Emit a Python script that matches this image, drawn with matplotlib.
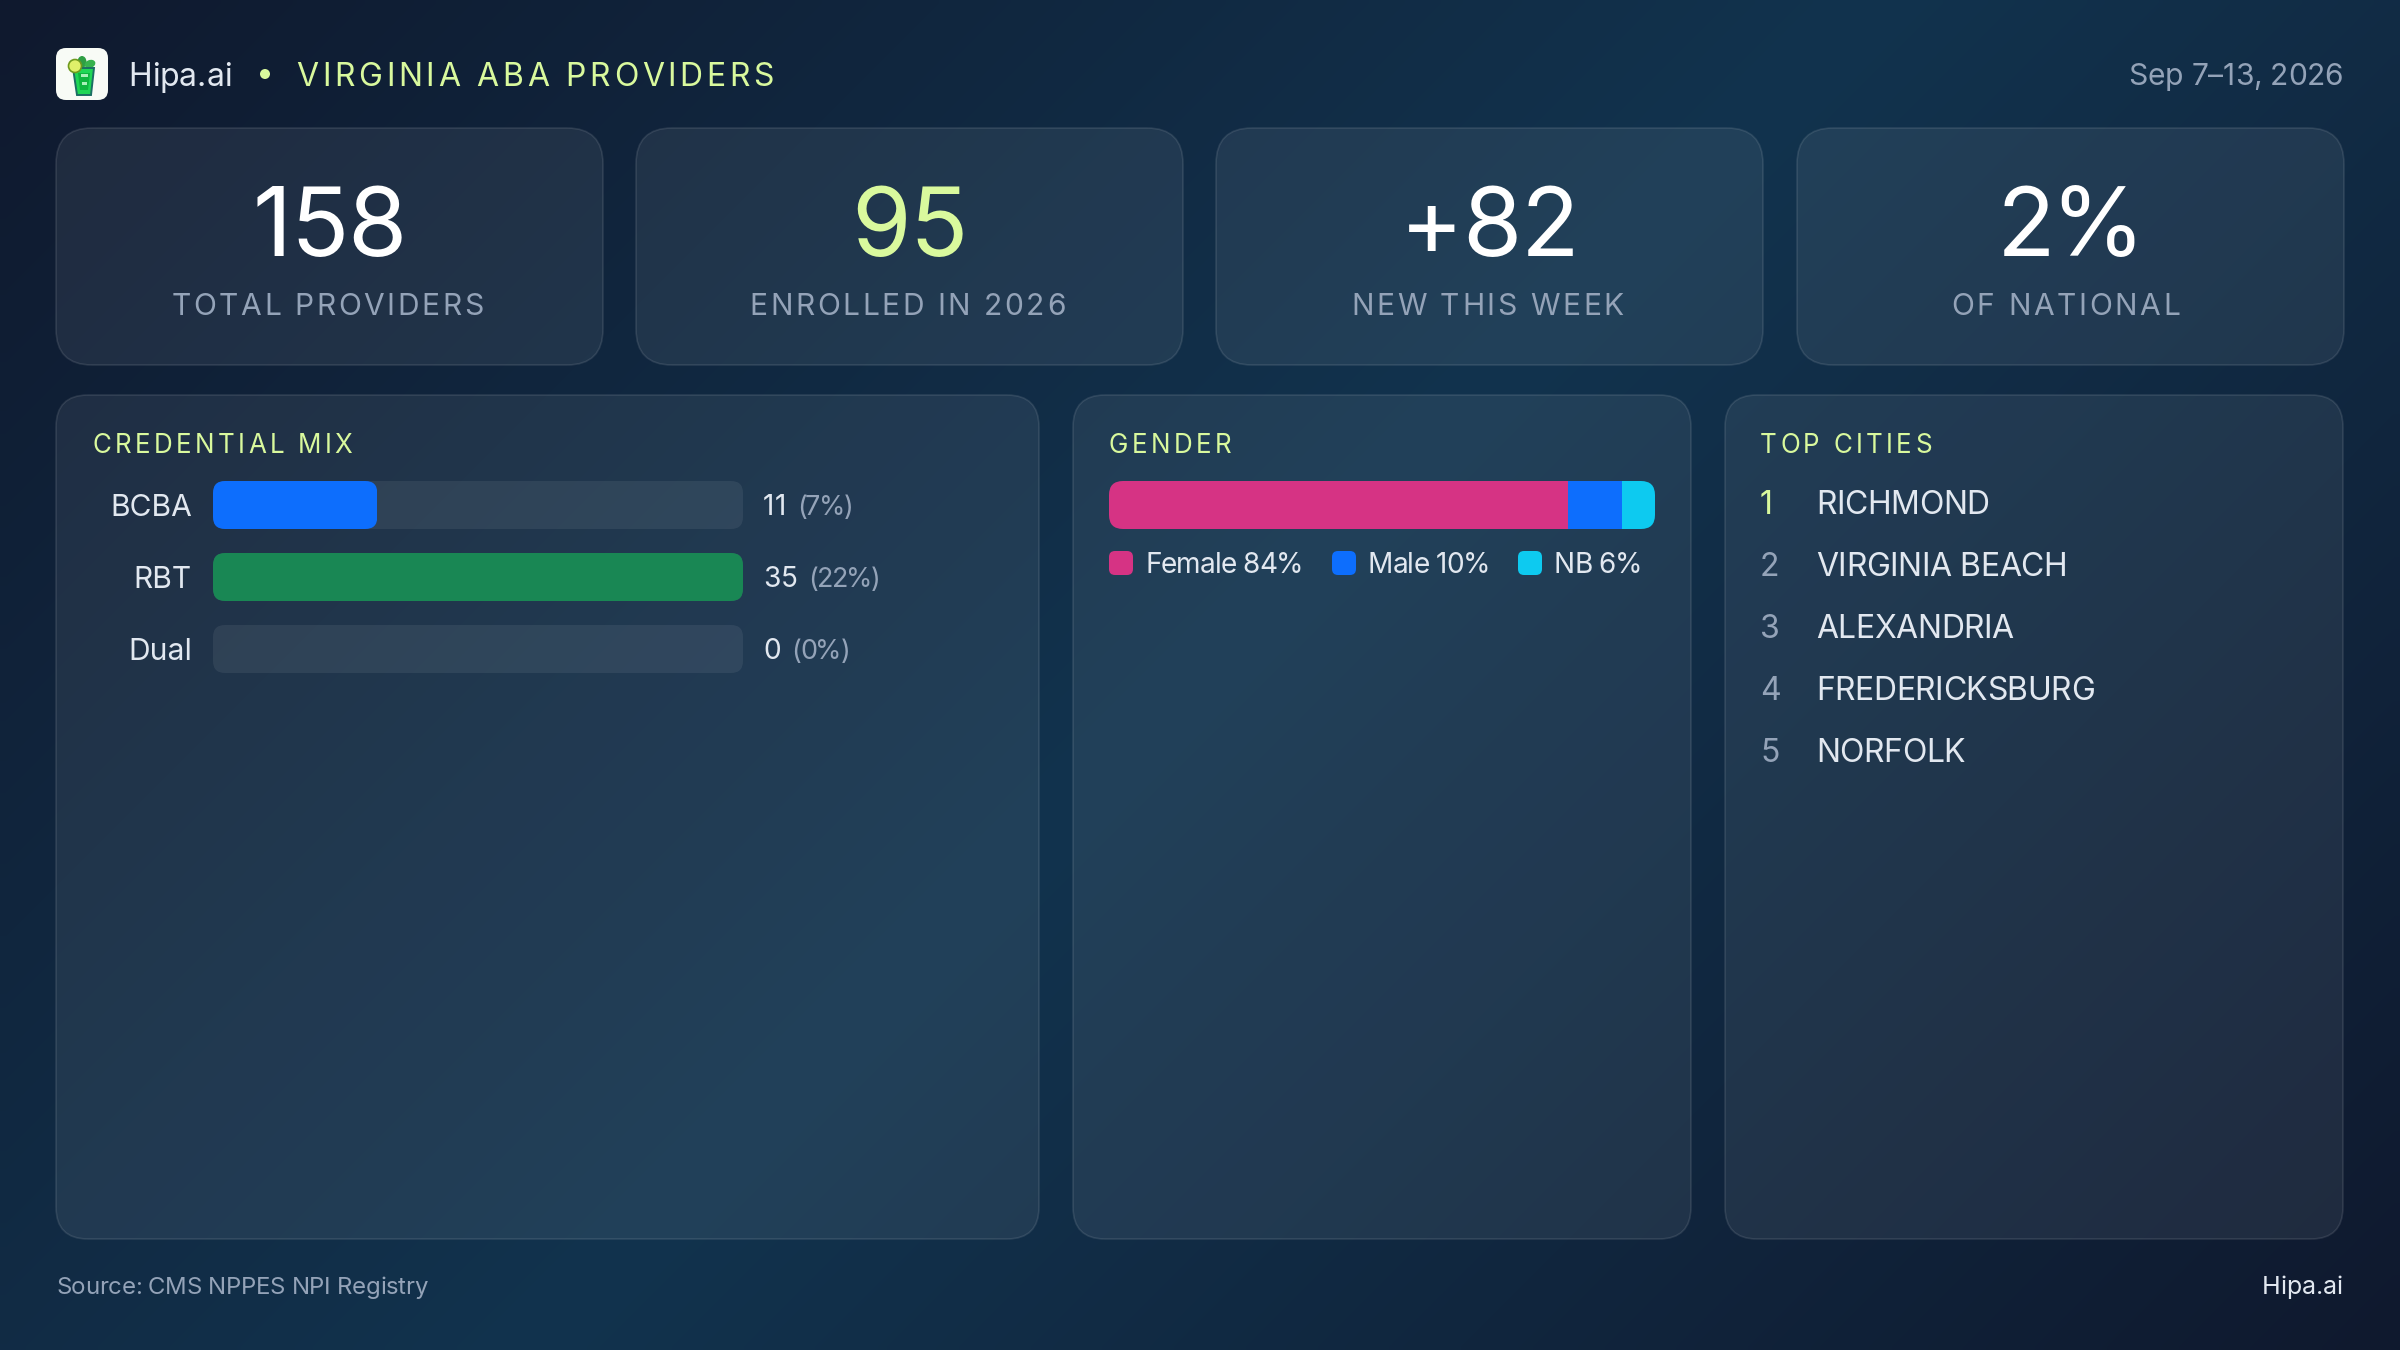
import matplotlib
matplotlib.use("Agg")
import matplotlib.pyplot as plt
import numpy as np
from matplotlib.patches import Circle, Ellipse, FancyBboxPatch, Polygon, Rectangle
from matplotlib.text import Text
from matplotlib.transforms import IdentityTransform

plt.rcParams['font.family'] = ['Inter', 'DejaVu Sans']

W, H = 2400, 1350

# numbers on the slide
card_values = ["158", "95", "+82", "2%"]
card_labels = ["TOTAL PROVIDERS", "ENROLLED IN 2026", "NEW THIS WEEK", "OF NATIONAL"]
cred_names = ["BCBA", "RBT", "Dual"]
cred_counts = [11, 35, 0]
cred_pcts = [7, 22, 0]
cred_fill = [31, 100, 0]  # bar length, percent of the track
gender_names = ["Female", "Male", "NB"]
gender_pcts = [84, 10, 6]
cities = ["RICHMOND", "VIRGINIA BEACH", "ALEXANDRIA", "FREDERICKSBURG", "NORFOLK"]

LIME = "#d9f99d"
LABEL = "#94a3b8"
TEXT = "#e2e8f0"
card_colors = ["white", LIME, "white", "white"]
cred_colors = ["#0d6efd", "#198754", "#6c757d"]
gender_colors = ["#d63384", "#0d6efd", "#0dcaf0"]


def px(size):
    # css pixels to points at dpi 100
    return size * 0.72


class Tracked(Text):
    # one text, drawn with letter spacing (matplotlib has none)
    def __init__(self, x, y, s, track=0, **kw):
        super().__init__(x, y, s, **kw)
        self.track = track

    def draw(self, renderer):
        s = self.get_text()
        prop = self.get_fontproperties()
        width = lambda t: renderer.get_text_width_height_descent(t, prop, False)[0]
        total = width(s) + self.track * (len(s) - 1)
        x, y = self.get_transform().transform(self.get_position())
        if self.get_ha() == "center":
            x -= total / 2
        elif self.get_ha() == "right":
            x -= total
        gc = renderer.new_gc()
        gc.set_foreground(self.get_color())
        for i, ch in enumerate(s):
            if ch == " ":
                continue
            pos = width(s[:i + 1]) - width(ch) + i * self.track
            renderer.draw_text(gc, x + pos, H - y, ch, prop, 0)
        gc.restore()


fig = plt.figure(figsize=(W / 100, H / 100), dpi=100)
ax = fig.add_axes([0, 0, 1, 1])
ax.set_xlim(0, W)
ax.set_ylim(H, 0)
ax.axis("off")

# diagonal background
yy, xx = np.mgrid[0:1:200j, 0:1:200j]
t = (xx * W + yy * H) / (W + H)
t = 1 - np.abs(t - 0.5) * 2
c0 = np.array([0x0f, 0x19, 0x2e]) / 255
c1 = np.array([0x12, 0x33, 0x4e]) / 255
bg = c0 + (c1 - c0) * t[..., None]
ax.imshow(bg, extent=[0, W, H, 0], aspect="auto", interpolation="bilinear", zorder=0)


def put(x, y, s, size, color, ha="left", track=0):
    t = Tracked(x, y, s, track=track, fontsize=px(size), color=color, ha=ha, va="baseline")
    ax.add_artist(t)
    return t


def box(x0, y0, x1, y1, r):
    ax.add_patch(FancyBboxPatch((x0 + r, y0 + r), x1 - x0 - 2 * r, y1 - y0 - 2 * r,
                                boxstyle="round,pad=%d,rounding_size=%d" % (r, r),
                                fc=(1, 1, 1, 0.07), ec=(1, 1, 1, 0.10), lw=1.2, zorder=1))


def px_axes(x0, y0, x1, y1):
    a = fig.add_axes([x0 / W, 1 - y1 / H, (x1 - x0) / W, (y1 - y0) / H])
    a.patch.set_alpha(0)
    for sp in a.spines.values():
        sp.set_visible(False)
    a.set_xticks([])
    a.tick_params(length=0)
    return a


def round_clip(artists, r):
    # round the corners of bars, using the box of all of them
    boxes = [b.get_window_extent() for b in artists]
    x0 = min(b.x0 for b in boxes)
    x1 = max(b.x1 for b in boxes)
    y0, y1 = boxes[0].y0, boxes[0].y1
    clip = FancyBboxPatch((x0 + r, y0 + r), x1 - x0 - 2 * r, y1 - y0 - 2 * r,
                          boxstyle="round,pad=%d,rounding_size=%d" % (r, r),
                          transform=IdentityTransform())
    for b in artists:
        b.set_clip_path(clip)


# logo
ax.add_patch(FancyBboxPatch((66, 58), 32, 32, boxstyle="round,pad=10,rounding_size=10",
                            fc="#f8fbf6", ec="none", zorder=3))
ax.add_patch(Ellipse((82, 62), 9, 12, fc="#2f9e44", ec="none", zorder=4))
ax.add_patch(Ellipse((90, 64), 11, 8, angle=-20, fc="#37b24d", ec="none", zorder=4))
ax.add_patch(Polygon([[73, 68], [94, 68], [91, 95], [77, 95]], closed=True,
                     fc="#1fd655", ec="#1c6e64", lw=1.4, zorder=5))
ax.add_patch(Polygon([[78, 73], [90, 73], [88, 90], [80, 90]], closed=True, fc="#0fb53f", ec="none", zorder=6))
ax.add_patch(Rectangle((81, 74), 7, 3, fc="#a8f0b8", ec="none", zorder=7))
ax.add_patch(Rectangle((82, 82), 5, 3, fc="#a8f0b8", ec="none", zorder=7))
ax.add_patch(Circle((75, 66), 6.5, fc="#dff06a", ec="#6f9a1e", lw=1.2, zorder=8))

# header
put(128, 86, "Hipa.ai", 32, TEXT)
ax.add_patch(Circle((265, 74), 5, fc=LIME, ec="none", zorder=3))
put(296, 86, "VIRGINIA ABA PROVIDERS", 32, LIME, track=3.7)
put(2343, 85, "Sep 7\u201313, 2026", 30, LABEL, ha="right", track=-0.2)

# kpi cards
card_x = [56, 636, 1216, 1797]
value_track = [-1, -1, -1, -5]
label_dx = [0, 0, 0, -3]
for i in range(4):
    x0 = card_x[i]
    box(x0, 128, x0 + 547, 365, 36)
    put(x0 + 273.5, 256, card_values[i], 96, card_colors[i], ha="center", track=value_track[i])
    put(x0 + 271.5 + label_dx[i], 315, card_labels[i], 30, LABEL, ha="center", track=2.6)

# panels
panels = [(56, 1039), (1073, 1691), (1725, 2343)]
titles = ["CREDENTIAL MIX", "GENDER", "TOP CITIES"]
title_x = [93, 1109, 1760]
for (x0, x1), title, tx in zip(panels, titles, title_x):
    box(x0, 395, x1, 1239, 32)
    put(tx, 453, title, 26, LIME, track=3.3)

# credential bars
ac = px_axes(213, 481, 743, 673)
ac.set_xlim(0, 100)
ac.set_ylim(len(cred_names) - 1 + 1 / 3, -1 / 3)
ac.set_yticks(range(len(cred_names)), cred_names, fontsize=px(30), color=TEXT)
ac.tick_params(axis="y", pad=px(21))
rend = fig.canvas.get_renderer()
for i in range(len(cred_names)):
    track = ac.barh(i, 100, height=2 / 3, color="white", alpha=0.07)[0]
    round_clip([track], 12)
    if cred_fill[i] > 0:
        fill = ac.barh(i, cred_fill[i], height=2 / 3, color=cred_colors[i])[0]
        round_clip([fill], 12)
    base = 515 + i * 72
    n = put(763, base, str(cred_counts[i]), 28, TEXT)
    nw = rend.get_text_width_height_descent(n.get_text(), n.get_fontproperties(), False)[0]
    put(763 + nw + 11, base, "(%d%%)" % cred_pcts[i], 27, LABEL, track=-1.5)

# gender bar
ag = px_axes(1109, 481, 1655, 529)
ag.set_xlim(0, sum(gender_pcts))
ag.set_ylim(-0.5, 0.5)
ag.set_yticks([])
segs = ag.barh(0, gender_pcts, height=1, left=np.cumsum([0] + gender_pcts[:-1]), color=gender_colors)
round_clip(list(segs), 14)

# gender legend
leg_swatch = [1109, 1332, 1518]
for i in range(3):
    x0 = leg_swatch[i]
    ax.add_patch(FancyBboxPatch((x0 + 6, 557), 12, 12, boxstyle="round,pad=6,rounding_size=6",
                                fc=gender_colors[i], ec="none", zorder=3))
    put(x0 + 36, 573, "%s %d%%" % (gender_names[i], gender_pcts[i]), 28, TEXT, track=-0.9)

# cities
for i, city in enumerate(cities):
    y = 514 + i * 62
    put(1760, y, str(i + 1), 32, LIME if i == 0 else LABEL)
    put(1816, y, city, 32, TEXT, track=-0.4)

# footer
put(56, 1294, "Source: CMS NPPES NPI Registry", 24, LABEL, track=-0.3)
put(2343, 1294, "Hipa.ai", 25, TEXT, ha="right")

fig.savefig("out.png", dpi=100)
